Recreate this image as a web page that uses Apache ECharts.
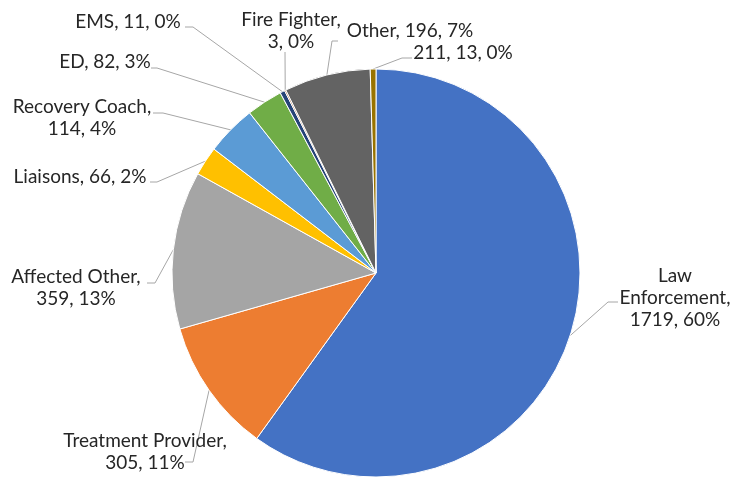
<!DOCTYPE html>
<html><head><meta charset="utf-8">
<script src="https://cdn.jsdelivr.net/npm/echarts@6/dist/echarts.min.js"></script>
<style>html,body{margin:0;padding:0;background:#fff}#c{width:742px;height:477px}</style>
</head><body><div id="c"></div>
<script>
const categories = ["Law Enforcement","Treatment Provider","Affected Other","Liaisons","Recovery Coach","ED","EMS","Fire Fighter","Other","211"];
const values = [1719,305,359,66,114,82,11,3,196,13];
const colors = ["#4472C4","#ED7D31","#A5A5A5","#FFC000","#5B9BD5","#70AD47","#264478","#9E480E","#636363","#997300"];
// label layout: text block centres, wrapping style, leader attach offsets [dx, dy, bend]
const labelPos = [[675,298],[145,452],[76,288],[80,177],[82,118],[105,62],[128,22],[291,31],[410,31],[463,53]];
const labelWrap = ["all","name","name","none","name","none","none","name","none","none"];
const leaderAttach = [[-57,4,-10],[40,10,8],[71,-5,8],[70,5,7],[71,-5,10],[46,6,6],[57,5,8],[-6,21,0],[-72,10,-6],[-51,5,-10]];

const total = values.reduce((a,b)=>a+b,0);
const chart = echarts.init(document.getElementById('c'), null, {renderer:'canvas'});
chart.setOption({
  animation:false,
  series:[{
    type:'pie',
    center:[376,273],
    radius:204,
    startAngle:90,
    clockwise:true,
    data: categories.map((n,i)=>({name:n, value:values[i], itemStyle:{color:colors[i]}})),
    itemStyle:{borderColor:'#fff', borderWidth:1},
    label:{
      show:true,
      fontFamily:'Lato',
      fontSize:19,
      color:'#262626',
      lineHeight:22,
      align:'center',
      overflow:'none',
      formatter:(p)=>{
        const pct = Math.round(p.value/total*100)+'%';
        const w = labelWrap[p.dataIndex];
        if (w==='all') return p.name.replace(' ','\n')+',\n'+p.value+', '+pct;
        if (w==='name') return p.name+',\n'+p.value+', '+pct;
        return p.name+', '+p.value+', '+pct;
      }
    },
    labelLine:{show:true, lineStyle:{color:'#a6a6a6', width:1}},
    labelLayout:(params)=>{
      const i = params.dataIndex;
      const pos = labelPos[i];
      const a = leaderAttach[i];
      const res = {x:pos[0], y:pos[1], align:'center', verticalAlign:'middle'};
      if (params.labelLinePoints && params.labelLinePoints.length) {
        const p0 = params.labelLinePoints[0];
        const end = [pos[0]+a[0], pos[1]+a[1]];
        const bend = [end[0]+a[2], end[1]];
        res.labelLinePoints = [p0, bend, end];
      }
      return res;
    }
  }]
});
</script></body></html>
